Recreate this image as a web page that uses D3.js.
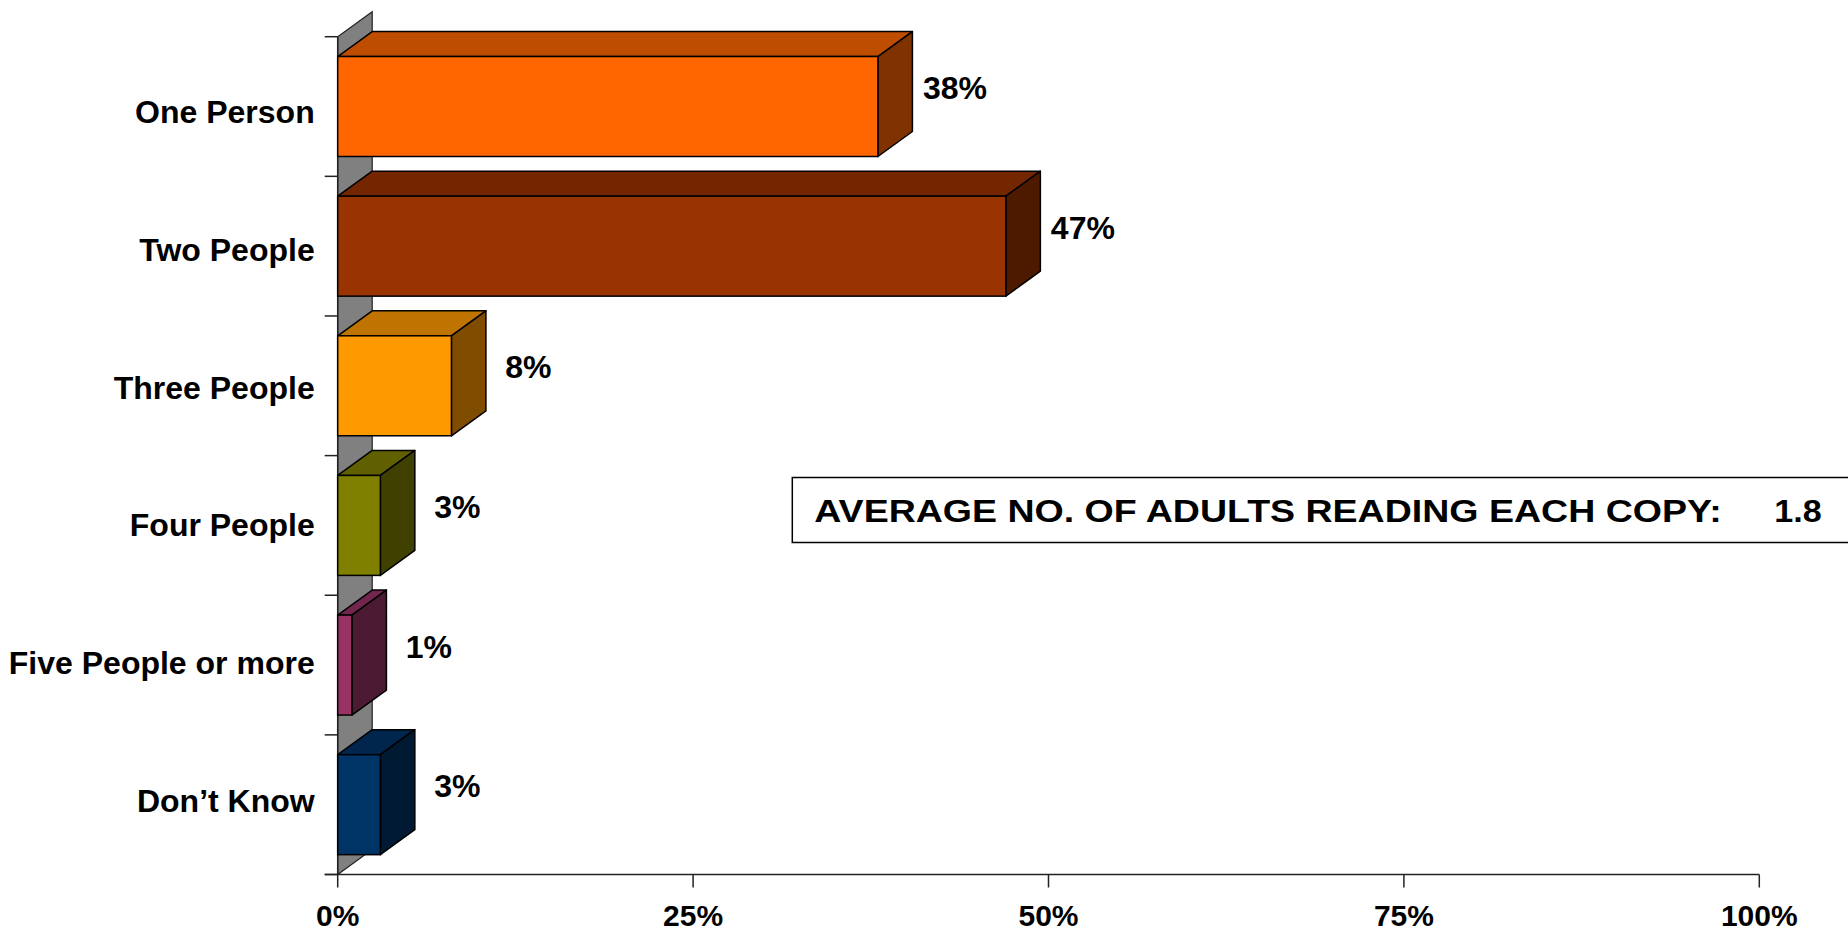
<!DOCTYPE html>
<html>
<head>
<meta charset="utf-8">
<script src="https://cdn.jsdelivr.net/npm/d3@7/dist/d3.min.js"></script>
<style>
  html, body { margin: 0; padding: 0; background: #ffffff; overflow: hidden; }
  svg { display: block; }
  text { font-family: "Liberation Sans", Arial, Helvetica, sans-serif; font-weight: bold; fill: #000; }
</style>
</head>
<body>
<svg id="chart" width="1848" height="929"></svg>
<script>
// ---- data ----
const categories = ["One Person", "Two People", "Three People", "Four People", "Five People or more", "Don\u2019t Know"];
const values = [38, 47, 8, 3, 1, 3];
const valueLabels = ["38%", "47%", "8%", "3%", "1%", "3%"];
const frontColors = ["#FF6600", "#993300", "#FF9900", "#808000", "#993366", "#003366"];
const xTickValues = [0, 25, 50, 75, 100];
const xTickLabels = ["0%", "25%", "50%", "75%", "100%"];
const noteLabel = "AVERAGE NO. OF ADULTS READING EACH COPY:";
const noteValue = "1.8";

// ---- layout ----
const W = 1848, H = 929;
const plotLeft = 337.7, plotRight = 1759.3, plotTop = 36.7, plotBottom = 874.5;
const depthX = 34.5, depthY = -25;

const svg = d3.select("#chart");

const x = d3.scaleLinear().domain([0, 100]).range([plotLeft, plotRight]);
const y = d3.scaleBand().domain(categories).range([plotTop, plotBottom])
  .paddingInner(0.284).paddingOuter(0.142);
// category label baselines (slightly tighter spacing than the bands, as in the original)
const yLabel = d3.scalePoint().domain(categories).range([123.3, 811.5]);

const shade = (c, k) => { const r = d3.rgb(c); return d3.rgb(r.r * k, r.g * k, r.b * k).formatHex(); };

// back wall (gray)
const wallPts = [[plotLeft, plotBottom], [plotLeft, plotTop], [plotLeft + depthX, plotTop + depthY], [plotLeft + depthX, plotBottom + depthY]];
svg.append("polygon")
  .attr("points", wallPts.map(p => p.join(",")).join(" "))
  .attr("fill", "#808080")
  .attr("stroke", "#222")
  .attr("stroke-width", 1.2);

// y axis line and ticks (category boundaries)
svg.append("line")
  .attr("x1", plotLeft).attr("x2", plotLeft)
  .attr("y1", plotTop).attr("y2", plotBottom)
  .attr("stroke", "#222").attr("stroke-width", 1.5);
const step = y.step();
d3.range(categories.length + 1).forEach(i => {
  const ty = plotTop + i * step;
  svg.append("line")
    .attr("x1", plotLeft - 13).attr("x2", plotLeft)
    .attr("y1", ty).attr("y2", ty)
    .attr("stroke", "#222").attr("stroke-width", 1.5);
});

// x axis
svg.append("line")
  .attr("x1", plotLeft - 13).attr("x2", plotRight)
  .attr("y1", plotBottom).attr("y2", plotBottom)
  .attr("stroke", "#222").attr("stroke-width", 1.5);
const xAxisG = svg.append("g");
xTickValues.forEach((v, i) => {
  xAxisG.append("line")
    .attr("x1", x(v)).attr("x2", x(v))
    .attr("y1", plotBottom).attr("y2", plotBottom + 13)
    .attr("stroke", "#222").attr("stroke-width", 1.5);
  xAxisG.append("text")
    .attr("x", x(v)).attr("y", 926)
    .attr("text-anchor", "middle")
    .attr("font-size", 30)
    .text(xTickLabels[i]);
});

// bars (3D)
const barsG = svg.append("g");
categories.forEach((c, i) => {
  const x0 = x(0), x1 = x(values[i]);
  const y0 = y(c), y1 = y(c) + y.bandwidth();
  const front = frontColors[i];
  const g = barsG.append("g");
  // top face
  g.append("polygon")
    .attr("points", [[x0, y0], [x0 + depthX, y0 + depthY], [x1 + depthX, y0 + depthY], [x1, y0]].map(p => p.join(",")).join(" "))
    .attr("fill", shade(front, 0.75)).attr("stroke", "#000").attr("stroke-width", 1.5).attr("stroke-linejoin", "round");
  // side face
  g.append("polygon")
    .attr("points", [[x1, y0], [x1 + depthX, y0 + depthY], [x1 + depthX, y1 + depthY], [x1, y1]].map(p => p.join(",")).join(" "))
    .attr("fill", shade(front, 0.5)).attr("stroke", "#000").attr("stroke-width", 1.5).attr("stroke-linejoin", "round");
  // front face
  g.append("rect")
    .attr("x", x0).attr("y", y0)
    .attr("width", x1 - x0).attr("height", y1 - y0)
    .attr("fill", front).attr("stroke", "#000").attr("stroke-width", 1.5);
  // value label
  svg.append("text")
    .attr("x", x1 + 77).attr("y", y0 + y.bandwidth() / 2 - 7.5)
    .attr("text-anchor", "middle")
    .attr("font-size", 32)
    .text(valueLabels[i]);
  // category label
  svg.append("text")
    .attr("x", plotLeft - 23).attr("y", yLabel(c))
    .attr("text-anchor", "end")
    .attr("font-size", 32)
    .text(c);
});

// annotation box
svg.append("rect")
  .attr("x", 792.3).attr("y", 477.5)
  .attr("width", 1100).attr("height", 65)
  .attr("fill", "#fff").attr("stroke", "#000").attr("stroke-width", 1.5);
svg.append("text")
  .attr("x", 814.3).attr("y", 521.7)
  .attr("font-size", 31)
  .attr("textLength", 907.4).attr("lengthAdjust", "spacingAndGlyphs")
  .text(noteLabel);
svg.append("text")
  .attr("x", 1774.3).attr("y", 521.7)
  .attr("font-size", 31)
  .attr("textLength", 47.4).attr("lengthAdjust", "spacingAndGlyphs")
  .text(noteValue);
</script>
</body>
</html>
